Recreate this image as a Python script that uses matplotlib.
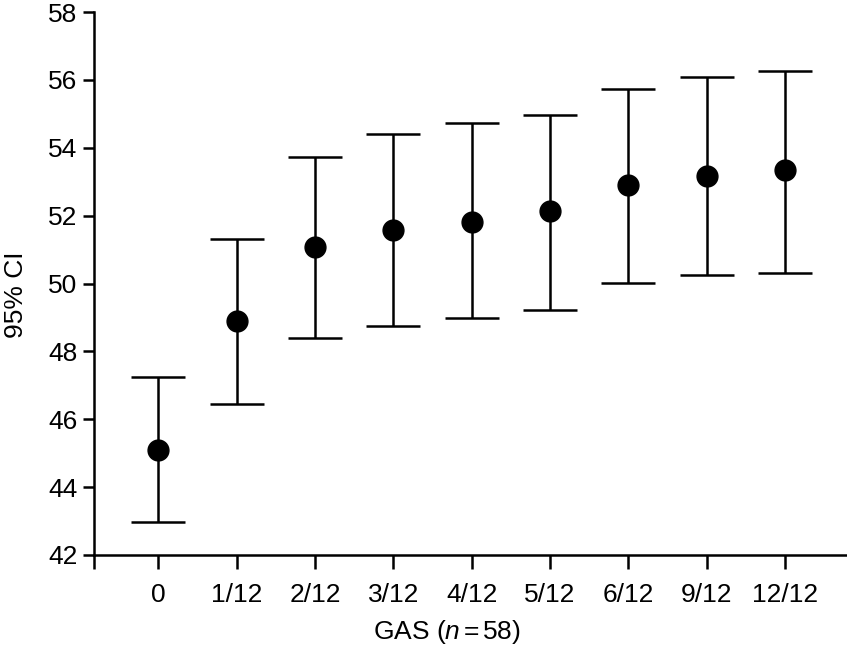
import matplotlib
matplotlib.use("Agg")
import matplotlib.pyplot as plt
import numpy as np

categories = ["0", "1/12", "2/12", "3/12", "4/12", "5/12", "6/12", "9/12", "12/12"]
means = [45.08, 48.89, 51.08, 51.59, 51.82, 52.15, 52.89, 53.18, 53.33]
upper = [47.24, 51.32, 53.72, 54.40, 54.72, 54.96, 55.73, 56.08, 56.26]
lower = [42.98, 46.44, 48.39, 48.75, 48.98, 49.22, 50.02, 50.25, 50.31]
yticks = [42, 44, 46, 48, 50, 52, 54, 56, 58]

plt.rcParams['font.family'] = ['Liberation Sans', 'DejaVu Sans']
plt.rcParams['mathtext.fontset'] = 'custom'
plt.rcParams['mathtext.rm'] = 'Liberation Sans'
plt.rcParams['mathtext.it'] = 'Liberation Sans:italic'

fig = plt.figure(figsize=(8.47, 6.49), dpi=100)
ax = fig.add_axes([94/847, 1-555/649, (847-94)/847, 543/649])

x = np.arange(len(categories))
m = np.array(means)
yerr = [m - np.array(lower), np.array(upper) - m]
ax.errorbar(x, m, yerr=yerr, fmt='o', color='black', ms=15,
            elinewidth=1.8, capsize=19.5, capthick=1.8, clip_on=False)

ax.set_xlim(-0.82, 8.79)
ax.set_ylim(42, 58)
ax.set_yticks(yticks)
ax.set_xticks(list(x) + [-0.82])
ax.set_xticklabels(categories + [""])
ax.tick_params(axis='y', direction='out', length=8, width=1.8, labelsize=19, pad=4)
ax.tick_params(axis='x', direction='out', length=10, width=1.8, labelsize=19, pad=10)
for s in ['top', 'right']:
    ax.spines[s].set_visible(False)
for s in ['left', 'bottom']:
    ax.spines[s].set_linewidth(1.8)

fig.text(16/847, 1-295/649, "95% CI", fontsize=19, rotation=90,
         ha='center', va='center')
fig.text(447/847, 1-632/649, r"GAS ($n\,$=$\,$58)", fontsize=19,
         ha='center', va='center')

fig.savefig("out.png", dpi=100)
